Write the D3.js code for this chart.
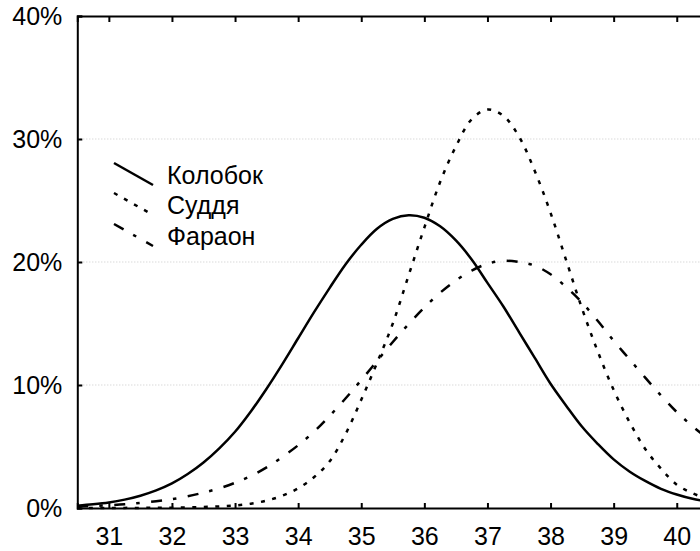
<!DOCTYPE html>
<html>
<head>
<meta charset="utf-8">
<script src="https://cdn.jsdelivr.net/npm/d3@7"></script>
<style>
  html, body { margin: 0; padding: 0; background: #fff; overflow: hidden; }
  svg { display: block; font-family: "Liberation Sans", Arial, sans-serif; }
</style>
</head>
<body>
<div id="chart"></div>
<script>
// ---- data ----
const temps = [30.5,30.75,31,31.25,31.5,31.75,32,32.25,32.5,32.75,33,33.25,33.5,33.75,34,34.25,34.5,34.75,35,35.25,35.5,35.75,36,36.25,36.5,36.75,37,37.25,37.5,37.75,38,38.25,38.5,38.75,39,39.25,39.5,39.75,40,40.25,40.5];
const kolobok = [0.19,0.30,0.45,0.68,1.0,1.43,2.0,2.76,3.7,4.85,6.2,7.85,9.7,11.7,13.8,15.9,17.9,19.8,21.4,22.7,23.5,23.8,23.6,22.9,21.75,20.2,18.3,16.4,14.3,12.2,10.1,8.3,6.6,5.2,3.95,2.97,2.2,1.56,1.1,0.75,0.5];
const suddya = [0,0,0,0.01,0.01,0.02,0.03,0.05,0.08,0.13,0.2,0.35,0.6,1.0,1.6,2.5,3.8,6.0,8.8,11.8,15.0,18.9,22.8,26.5,29.4,31.6,32.4,31.9,30.2,27.4,24.0,20.1,16.2,12.7,9.6,7.0,4.8,3.2,1.9,1.2,0.7];
const faraon = [0.12,0.16,0.22,0.3,0.42,0.55,0.72,0.95,1.25,1.6,2.05,2.6,3.3,4.15,5.1,6.2,7.5,8.9,10.4,11.95,13.5,14.95,16.3,17.5,18.5,19.3,19.85,20.1,20.0,19.7,19.0,17.95,16.7,15.2,13.6,12.1,10.6,9.15,7.8,6.65,5.6];
const seriesNames = ["Колобок", "Суддя", "Фараон"];
const xTicks = [31,32,33,34,35,36,37,38,39,40];
const yTicks = [0,10,20,30,40];
const xDomain = [30.5, 40.5];
const yDomain = [0, 40];

// ---- layout ----
const W = 700, H = 551;
const margin = {left: 77.3, top: 16, plotW: 631, plotH: 492};
const styles = [
  {dash: null},
  {dash: "4,7.5"},
  {dash: "11,11,3.5,11.5"}
];

const svg = d3.select("#chart").append("svg").attr("width", W).attr("height", H);
const x = d3.scaleLinear().domain(xDomain).range([margin.left, margin.left + margin.plotW]);
const y = d3.scaleLinear().domain(yDomain).range([margin.top + margin.plotH, margin.top]);

// gridlines
svg.append("g").selectAll("line").data(yTicks.filter(d => d > 0 && d < 40)).join("line")
  .attr("x1", x(xDomain[0])).attr("x2", x(xDomain[1]))
  .attr("y1", d => y(d)).attr("y2", d => y(d))
  .attr("stroke", "#c8c8c8").attr("stroke-width", 1).attr("stroke-dasharray", "1,2");

// curves
const allSeries = [kolobok, suddya, faraon];
const line = d3.line().x((d, i) => x(temps[i])).y(d => y(d)).curve(d3.curveCatmullRom.alpha(0.5));
allSeries.forEach((s, k) => {
  svg.append("path").datum(s).attr("d", line)
    .attr("fill", "none").attr("stroke", "#000").attr("stroke-width", 2.5)
    .attr("stroke-dasharray", styles[k].dash);
});

// axes
const fontSize = 25;
const gBottom = svg.append("g").attr("transform", `translate(0,${y(0)})`)
  .call(d3.axisBottom(x).tickValues(xTicks).tickSize(-5).tickPadding(19).tickFormat(d3.format("d")));
const gTop = svg.append("g").attr("transform", `translate(0,${y(40)})`)
  .call(d3.axisTop(x).tickValues(xTicks).tickSize(-6).tickFormat(""));
const gLeft = svg.append("g").attr("transform", `translate(${x(xDomain[0])},0)`)
  .call(d3.axisLeft(y).tickValues(yTicks).tickSize(-5).tickPadding(15).tickFormat(d => d + "%"));
[gBottom, gTop, gLeft].forEach(g => {
  g.select(".domain").attr("stroke", "#000").attr("stroke-width", 2);
  g.selectAll(".tick line").attr("stroke", "#000").attr("stroke-width", 2);
  g.selectAll("text").attr("font-size", fontSize).attr("fill", "#000")
    .attr("font-family", '"Liberation Sans", Arial, sans-serif');
});
gBottom.selectAll("text").attr("dy", "0.71em");

// legend
const legend = svg.append("g");
const legY0 = [163, 193, 224];
seriesNames.forEach((name, k) => {
  legend.append("line")
    .attr("x1", 114).attr("y1", legY0[k]).attr("x2", 153).attr("y2", legY0[k] + 22)
    .attr("stroke", "#000").attr("stroke-width", 2.5)
    .attr("stroke-dasharray", styles[k].dash);
  legend.append("text").attr("x", 167).attr("y", legY0[k] + 21)
    .attr("font-size", fontSize).attr("fill", "#000").text(name);
});
</script>
</body>
</html>
